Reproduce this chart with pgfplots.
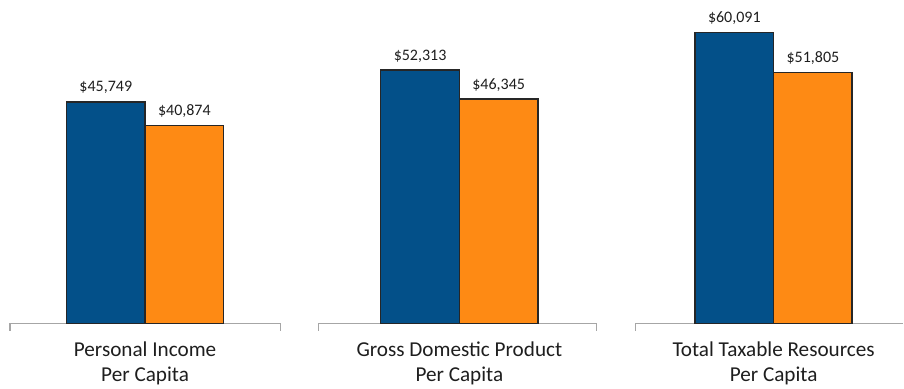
\documentclass[border=0pt]{standalone}
\usepackage{pgfplots}
\pgfplotsset{compat=1.18}
\usepackage{fontspec}
\setmainfont{Carlito}
\definecolor{barblue}{RGB}{3,80,137}
\definecolor{barorange}{RGB}{254,138,20}
\definecolor{basegray}{RGB}{166,166,166}
\definecolor{txt}{RGB}{30,30,30}
\tikzset{catlab/.style={anchor=base, font=\fontsize{21.2}{24}\selectfont, text=txt, inner sep=0pt}}
\begin{document}
\begin{tikzpicture}
\begin{axis}[
  width=904pt, height=389pt, scale only axis,
  xmin=-0.4616, xmax=2.4128,
  ymin=-13394, ymax=66763,
  axis lines=none, ticks=none,
  clip=false,
  ybar, bar width=0.25,
  /pgf/number format/assume math mode=true,
  nodes near coords={\$\pgfmathprintnumber[fixed,precision=0,1000 sep={,}]{\pgfplotspointmeta}},
  every node near coord/.append style={font=\fontsize{16}{18}\selectfont, text=txt, anchor=base, inner sep=0pt, yshift=10pt},
]
\draw[draw=none] (rel axis cs:0,0) rectangle (rel axis cs:1,1);
\draw[basegray, line width=1.3pt] (axis cs:-0.4298,-1442) -- (axis cs:-0.4298,0) -- (axis cs:0.4319,0) -- (axis cs:0.4319,-1442);
\draw[basegray, line width=1.3pt] (axis cs:0.5528,-1442) -- (axis cs:0.5528,0) -- (axis cs:1.4367,0) -- (axis cs:1.4367,-1442);
\draw[basegray, line width=1.3pt] (axis cs:1.5607,-1442) -- (axis cs:1.5607,0) -- (axis cs:2.4128,0);
\addplot[fill=barblue, draw=black!85, line width=1.4pt, bar shift=-0.125] coordinates {(0,45749) (1,52313) (2,60091)};
\addplot[fill=barorange, draw=black!85, line width=1.4pt, bar shift=0.125] coordinates {(0,40874) (1,46345) (2,51805)};
\node[catlab] at (axis cs:0,0) [yshift=-33pt] {Personal Income};
\node[catlab] at (axis cs:0,0) [yshift=-58pt] {Per Capita};
\node[catlab] at (axis cs:1,0) [yshift=-33pt] {Gross Domestic Product};
\node[catlab] at (axis cs:1,0) [yshift=-58pt] {Per Capita};
\node[catlab] at (axis cs:2,0) [yshift=-33pt] {Total Taxable Resources};
\node[catlab] at (axis cs:2,0) [yshift=-58pt] {Per Capita};
\end{axis}
\end{tikzpicture}
\end{document}
